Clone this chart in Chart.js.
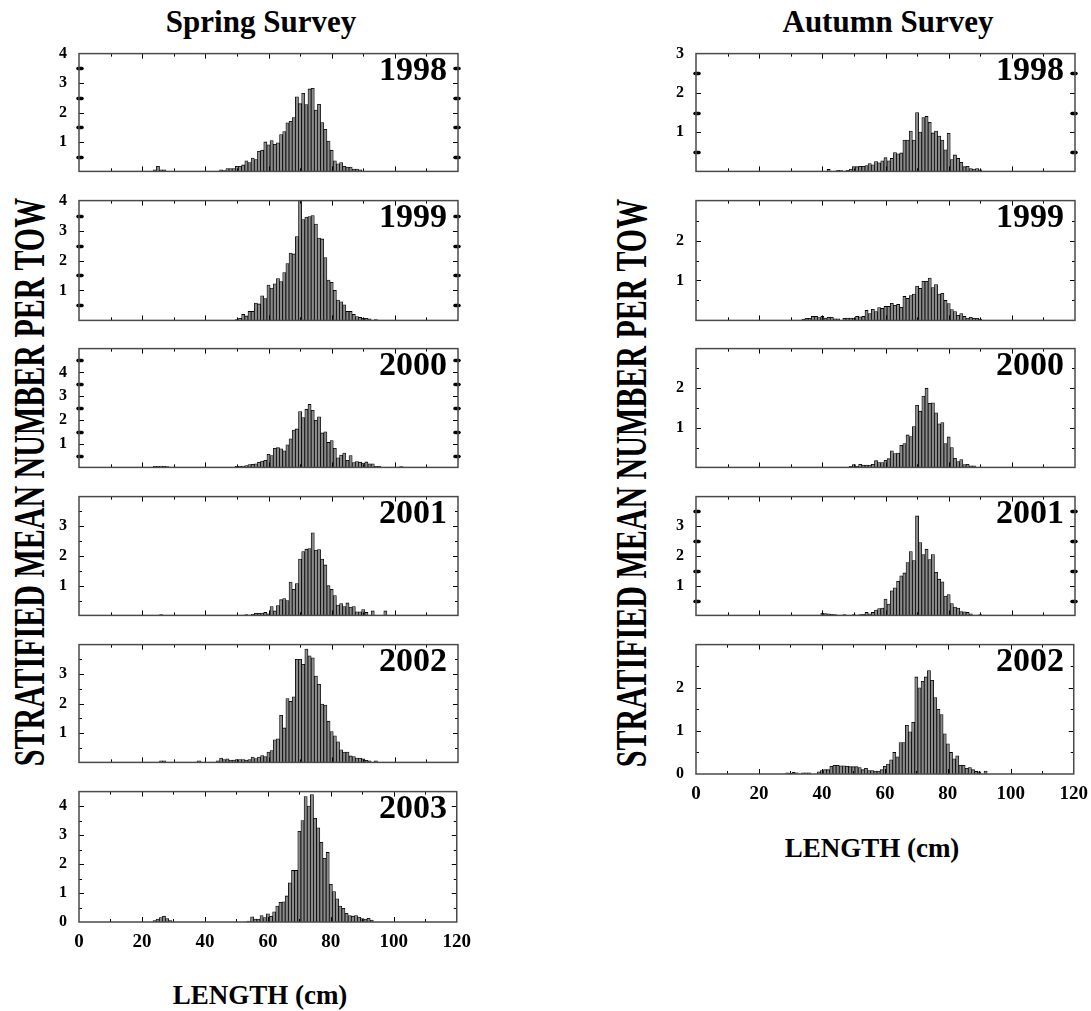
<!DOCTYPE html>
<html>
<head>
<meta charset="utf-8">
<script src="https://cdn.jsdelivr.net/npm/chart.js@4.4.0/dist/chart.umd.min.js"></script>
<style>
  body { margin: 0; background: #fff; width: 1091px; height: 1011px; position: relative; overflow: hidden;
         font-family: "Liberation Serif", "Times New Roman", serif; font-weight: bold; color: #000; }
  canvas { position: absolute; }
  .lbl { position: absolute; white-space: nowrap; line-height: 1; }
</style>
</head>
<body>
<div class="lbl" style="left:261px;top:6px;font-size:31px;transform:translateX(-50%)">Spring Survey</div>
<div class="lbl" style="left:888px;top:6px;font-size:31px;transform:translateX(-50%)">Autumn Survey</div>
<div class="lbl" style="left:29px;top:482px;font-size:30px;transform:translate(-50%,-50%) rotate(-90deg) scaleY(1.45)">STRATIFIED MEAN NUMBER PER TOW</div>
<div class="lbl" style="left:631px;top:483px;font-size:30px;transform:translate(-50%,-50%) rotate(-90deg) scaleY(1.45)">STRATIFIED MEAN NUMBER PER TOW</div>
<div class="lbl" style="left:260px;top:982px;font-size:27px;transform:translateX(-50%)">LENGTH (cm)</div>
<div class="lbl" style="left:872px;top:835px;font-size:27px;transform:translateX(-50%)">LENGTH (cm)</div>
<script>
// length classes 0-120 cm, each segment = [first length, values...]
const xTicks = [0, 20, 40, 60, 80, 100, 120];

// Spring survey
const sp1998 = [[24, [0.05, 0.17, 0.05, 0.05]],
  [45, [0.05, 0.03, 0.1, 0.1, 0.1, 0.17, 0.17, 0.22, 0.36, 0.3, 0.45, 0.4, 0.68, 0.72, 1.0, 0.9, 1.05, 0.92, 0.97, 1.25, 1.35, 1.65, 1.7, 1.83, 2.53, 2.3, 2.65, 2.27, 2.8, 2.82, 2.08, 2.28, 1.66, 1.43, 1.03, 0.72, 0.36, 0.26, 0.3, 0.17, 0.15, 0.15, 0.08, 0.08, 0.05]]];
const sp1999 = [[50, [0.03, 0.07, 0.2, 0.15, 0.3, 0.3, 0.58, 0.55, 0.82, 0.73, 1.18, 1.08, 1.22, 1.4, 1.3, 1.6, 1.9, 2.25, 2.22, 2.8, 4.0, 3.37, 3.45, 3.47, 3.5, 3.22, 2.75, 2.72, 2.1, 1.35, 1.27, 1.0, 0.68, 0.62, 0.52, 0.3, 0.3, 0.2, 0.13, 0.1, 0.07, 0.07, 0.05, 0, 0.03]]];
const sp2000 = [[24, [0.05, 0.05, 0.06, 0.05, 0.03]],
  [50, [0.05, 0.04, 0.06, 0.08, 0.12, 0.13, 0.15, 0.22, 0.27, 0.3, 0.55, 0.5, 0.8, 0.83, 0.78, 0.7, 0.95, 1.2, 1.57, 1.62, 2.35, 2.1, 2.45, 2.65, 2.4, 1.98, 2.13, 1.45, 1.5, 1.05, 1.13, 0.8, 0.4, 0.52, 0.6, 0.3, 0.5, 0.2, 0.25, 0.22, 0.18, 0.23, 0.15, 0.15, 0.05, 0.05]],
  [102, [0.03]]];
const sp2001 = [[26, [0.03]],
  [53, [0.03, 0, 0.04, 0.07, 0.07, 0.08, 0.1, 0.05, 0.3, 0.15, 0.33, 0.53, 0.57, 0.5, 1.12, 0.88, 1.07, 1.9, 2.15, 2.23, 2.25, 2.78, 2.2, 2.22, 1.9, 1.7, 1.0, 0.88, 0.67, 0.35, 0.4, 0.3, 0.42, 0.28, 0.3, 0.12, 0.12, 0.2, 0.1, 0, 0.15]],
  [97, [0.15]]];
const sp2002 = [[26, [0.05, 0.05]], [38, [0.05]],
  [44, [0.05, 0.15, 0.1, 0.12, 0.08, 0.08, 0.1, 0.1, 0.1, 0.08, 0.1, 0.18, 0.13, 0.18, 0.23, 0.2, 0.35, 0.4, 0.77, 0.8, 1.6, 1.17, 2.17, 2.07, 2.23, 3.5, 3.5, 3.33, 3.85, 3.62, 3.55, 2.93, 2.65, 1.98, 1.95, 1.4, 1.05, 0.9, 0.7, 0.43, 0.35, 0.35, 0.22, 0.2, 0.15, 0.15, 0.12, 0.07, 0.05, 0, 0.05]]];
const sp2003 = [[24, [0.05, 0.1, 0.15, 0.2, 0.12, 0.05]],
  [54, [0.03, 0.18, 0.1, 0.1, 0.22, 0.15, 0.28, 0.2, 0.35, 0.55, 0.68, 0.7, 0.9, 1.35, 1.78, 1.78, 3.13, 3.5, 4.33, 4.0, 4.4, 3.58, 3.25, 2.75, 2.2, 2.4, 1.3, 1.05, 0.8, 0.55, 0.47, 0.3, 0.22, 0.2, 0.22, 0.17, 0.12, 0.1, 0.13, 0.07]]];

// Autumn survey
const au1998 = [[42, [0.05, 0, 0, 0.03, 0.02, 0, 0.03, 0.06, 0.12, 0.12, 0.13, 0.13, 0.15, 0.2, 0.17, 0.25, 0.22, 0.27, 0.35, 0.27, 0.33, 0.48, 0.45, 0.47, 0.8, 0.8, 1.03, 0.8, 1.5, 1.0, 1.37, 1.4, 1.25, 0.98, 1.03, 0.9, 0.8, 0.55, 0.97, 0.3, 0.42, 0.33, 0.23, 0.12, 0.13, 0.07, 0.06, 0.07, 0.04]]];
const au1999 = [[34, [0.03, 0.05, 0.05, 0.1, 0.1, 0.07, 0.1, 0.06, 0.08, 0.08, 0.04, 0.04, 0, 0.05, 0.06, 0.06, 0.06, 0.1, 0.09, 0.1, 0.25, 0.17, 0.28, 0.22, 0.32, 0.3, 0.35, 0.35, 0.43, 0.38, 0.4, 0.33, 0.6, 0.55, 0.62, 0.66, 0.86, 0.8, 0.98, 0.98, 1.06, 0.82, 0.9, 0.66, 0.68, 0.5, 0.42, 0.27, 0.22, 0.13, 0.17, 0.1, 0.06, 0.08, 0.05, 0.05, 0.03]]];
const au2000 = [[49, [0.03, 0.07, 0.03, 0.08, 0.06, 0.06, 0.06, 0.08, 0.17, 0.12, 0.12, 0.18, 0.22, 0.42, 0.35, 0.36, 0.56, 0.6, 0.82, 0.78, 1.03, 1.57, 1.42, 1.8, 2.0, 1.62, 1.63, 1.38, 1.1, 1.13, 0.6, 0.77, 0.5, 0.23, 0.15, 0.2, 0.07, 0.08, 0.04, 0.04]]];
const au2001 = [[40, [0.08, 0.06, 0.05, 0.04, 0.03, 0, 0, 0.03, 0, 0, 0.03, 0, 0.03, 0.04, 0.1, 0.05, 0.1, 0.18, 0.23, 0.25, 0.55, 0.38, 0.83, 0.93, 1.15, 1.33, 1.43, 1.78, 2.15, 1.85, 3.35, 2.45, 2.05, 2.23, 1.88, 2.05, 1.45, 1.22, 1.13, 0.65, 0.7, 0.4, 0.28, 0.25, 0.13, 0.12, 0.1, 0.05, 0, 0, 0.03]]];
const au2002 = [[29, [0.03, 0.02, 0.04, 0.03, 0, 0.03, 0.03, 0.03, 0, 0, 0.05, 0.08, 0.1, 0.1, 0.18, 0.2, 0.2, 0.19, 0.19, 0.18, 0.17, 0.17, 0.17, 0.15, 0.1, 0.13, 0.08, 0.08, 0.07, 0.07, 0.1, 0.18, 0.23, 0.33, 0.5, 0.4, 0.73, 0.73, 1.13, 0.98, 1.2, 2.25, 2.0, 2.15, 2.25, 2.4, 2.17, 1.77, 1.5, 1.38, 0.93, 0.7, 0.5, 0.35, 0.42, 0.2, 0.2, 0.13, 0.15, 0.1, 0.06, 0.05, 0, 0.07]]];

// panel layout: plot box in page pixels
const LEFT_X = 79, RIGHT_X = 696, PLOT_W = 379;
const panels = [
  { year: '1998', data: sp1998, x: LEFT_X, top: 42, bottom: 183, yMax: 4, yLabels: [1, 2, 3, 4], dots: true },
  { year: '1999', data: sp1999, x: LEFT_X, top: 189, bottom: 332, yMax: 4, yLabels: [1, 2, 3, 4], dots: true },
  { year: '2000', data: sp2000, x: LEFT_X, top: 337, bottom: 479, yMax: 5, yLabels: [1, 2, 3, 4], dots: true },
  { year: '2001', data: sp2001, x: LEFT_X, top: 485, bottom: 627, yMax: 4, yLabels: [1, 2, 3] },
  { year: '2002', data: sp2002, x: LEFT_X, top: 633, bottom: 774, yMax: 4, yLabels: [1, 2, 3] },
  { year: '2003', data: sp2003, x: LEFT_X, top: 780, bottom: 922, yMax: 4.5, yLabels: [0, 1, 2, 3, 4], xAxis: true },
  { year: '1998', data: au1998, x: RIGHT_X, top: 42, bottom: 183, yMax: 3, yLabels: [1, 2, 3], dots: true },
  { year: '1999', data: au1999, x: RIGHT_X, top: 189, bottom: 332, yMax: 3, yLabels: [1, 2] },
  { year: '2000', data: au2000, x: RIGHT_X, top: 337, bottom: 479, yMax: 3, yLabels: [1, 2] },
  { year: '2001', data: au2001, x: RIGHT_X, top: 485, bottom: 627, yMax: 4, yLabels: [1, 2, 3], dots: true },
  { year: '2002', data: au2002, x: RIGHT_X, top: 633, bottom: 774, yMax: 3, yLabels: [0, 1, 2], xAxis: true }
];

// box + inward tick marks, drawn from the chart's own scales
const framePlugin = {
  id: 'frame',
  afterDatasetsDraw(chart, args, opts) {
    const { ctx, chartArea: a, scales: { x, y } } = chart;
    ctx.save();
    ctx.strokeStyle = '#000';
    const line = (x1, y1, x2, y2) => { ctx.beginPath(); ctx.moveTo(x1, y1); ctx.lineTo(x2, y2); ctx.stroke(); };
    ctx.lineWidth = 1;
    for (let v = 10; v < 120; v += 10) {
      const px = Math.round(x.getPixelForValue(v)) + 0.5;
      const len = v % 20 === 0 ? 5 : 3;
      line(px, a.top, px, a.top + len);
      line(px, a.bottom, px, a.bottom - len);
    }
    for (let v = 0.5; v < y.max - 0.01; v += 0.5) {
      const py = Math.round(y.getPixelForValue(v)) + 0.5;
      if (Number.isInteger(v)) {
        ctx.lineWidth = 1; ctx.lineCap = 'butt';
        line(a.left, py, a.left + 5, py);
        line(a.right, py, a.right - 5, py);
      } else if (opts.dots) {
        ctx.lineWidth = 3.5; ctx.lineCap = 'round';
        line(a.left - 1, py, a.left + 3, py);
        line(a.right + 1, py, a.right - 3, py);
      } else {
        ctx.lineWidth = 1; ctx.lineCap = 'butt';
        line(a.left, py, a.left + 3, py);
        line(a.right, py, a.right - 3, py);
      }
    }
    ctx.lineCap = 'butt';
    ctx.strokeStyle = '#4a4a4a';
    ctx.lineWidth = 1.5;
    ctx.strokeRect(a.left, a.top, a.width, a.height);
    ctx.restore();
  }
};

const tickFont = { family: '"Liberation Serif", "Times New Roman", serif', weight: 'bold' };

panels.forEach(p => {
  const padL = 50, padR = 22, padT = 10, padB = p.xAxis ? 42 : 10;
  const h = p.bottom - p.top;
  const canvas = document.createElement('canvas');
  canvas.width = padL + PLOT_W + padR;
  canvas.height = padT + h + padB;
  canvas.style.left = (p.x - padL) + 'px';
  canvas.style.top = (p.top - padT) + 'px';
  document.body.appendChild(canvas);

  const points = [];
  p.data.forEach(([start, vals]) => vals.forEach((v, i) => points.push({ x: start + i, y: v })));

  new Chart(canvas.getContext('2d'), {
    type: 'bar',
    data: {
      datasets: [{
        data: points,
        backgroundColor: '#8a8a8a',
        borderColor: '#000',
        borderWidth: 0.8,
        barPercentage: 1,
        categoryPercentage: 1
      }]
    },
    options: {
      responsive: false,
      animation: false,
      devicePixelRatio: 1,
      layout: { padding: { top: padT, right: padR, left: 0, bottom: p.xAxis ? 0 : padB } },
      scales: {
        x: {
          type: 'linear', min: 0, max: 120, offset: false,
          display: !!p.xAxis,
          grid: { display: false, drawTicks: false },
          border: { display: false },
          ticks: { padding: 9, color: '#000', maxRotation: 0, autoSkip: false,
                   font: { ...tickFont, size: 19 } },
          afterBuildTicks: s => { s.ticks = xTicks.map(v => ({ value: v })); },
          afterFit: s => { s.height = padB; }
        },
        y: {
          min: 0, max: p.yMax,
          grid: { display: false, drawTicks: false },
          border: { display: false },
          ticks: { padding: 12, color: '#000', autoSkip: false,
                   font: { ...tickFont, size: 16 } },
          afterBuildTicks: s => { s.ticks = p.yLabels.map(v => ({ value: v })); },
          afterFit: s => { s.width = padL; }
        }
      },
      plugins: { legend: { display: false }, tooltip: { enabled: false }, frame: { dots: !!p.dots } }
    },
    plugins: [framePlugin]
  });

  const yr = document.createElement('div');
  yr.className = 'lbl';
  yr.textContent = p.year;
  yr.style.fontSize = '34px';
  yr.style.right = (1091 - (p.x + PLOT_W - 11)) + 'px';
  yr.style.top = (p.top + 10) + 'px';
  document.body.appendChild(yr);
});
</script>
</body>
</html>
